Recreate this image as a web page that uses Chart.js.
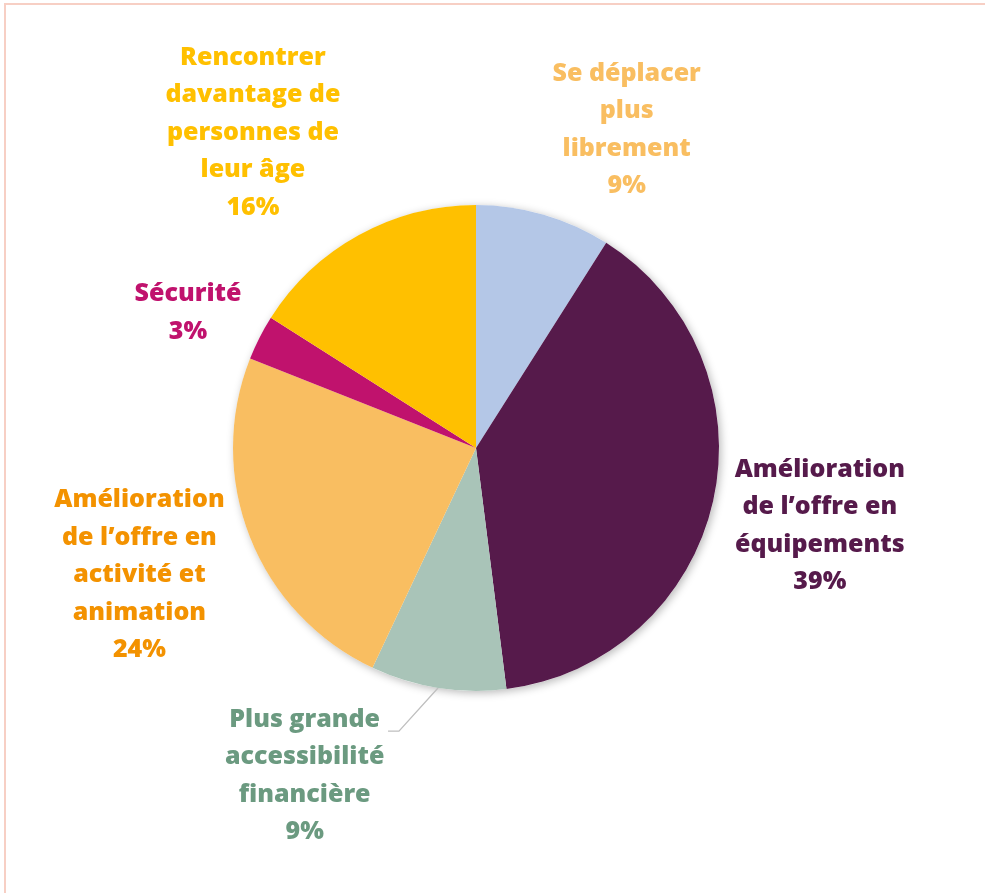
<!DOCTYPE html>
<html lang="fr">
<head>
<meta charset="utf-8">
<title>Attentes des seniors</title>
<script src="https://cdn.jsdelivr.net/npm/chart.js@4.4.1/dist/chart.umd.min.js"></script>
<style>
  html, body { margin: 0; padding: 0; background: #fff; }
  #wrap { position: relative; width: 985px; height: 893px; overflow: hidden; }
  #frame {
    position: absolute; left: 4px; top: 3px; width: 1100px; height: 1000px;
    border: 2px solid #f7cfc4; box-sizing: border-box;
  }
  canvas { position: absolute; left: 0; top: 0; }
</style>
</head>
<body>
<div id="wrap">
  <div id="frame"></div>
  <canvas id="piechart" width="985" height="893"></canvas>
</div>
<script>
const categories = [
  ["Se déplacer", "plus", "librement"],
  ["Amélioration", "de l’offre en", "équipements"],
  ["Plus grande", "accessibilité", "financière"],
  ["Amélioration", "de l’offre en", "activité et", "animation"],
  ["Sécurité"],
  ["Rencontrer", "davantage de", "personnes de", "leur âge"]
];
const values = [9, 39, 9, 24, 3, 16];
const sliceColors = ["#b4c7e7", "#561a4b", "#a9c4b8", "#f9be61", "#c0126d", "#ffc000"];
const labelColors = ["#f9be61", "#561a4b", "#6b9a80", "#f39200", "#c0126d", "#ffc000"];

// label block centres, in units of the pie radius, relative to the pie centre
const labelPos = [
  [0.62, -1.31],
  [1.415, 0.32],
  [-0.705, 1.35],
  [-1.385, 0.523],
  [-1.185, -0.556],
  [-0.918, -1.297]
];
const LINE_H = 37.5;

// draws the pie drop shadow, the labels and the leader line of the small green slice
const labelPlugin = {
  id: "sliceLabels",
  beforeDatasetsDraw(chart) {
    const arc = chart.getDatasetMeta(0).data[0];
    const ctx = chart.ctx;
    ctx.save();
    ctx.shadowColor = "rgba(0,0,0,0.28)";
    ctx.shadowBlur = 9;
    ctx.shadowOffsetX = 2;
    ctx.shadowOffsetY = 2;
    ctx.fillStyle = "#ffffff";
    ctx.beginPath();
    ctx.arc(arc.x, arc.y, arc.outerRadius, 0, Math.PI * 2);
    ctx.fill();
    ctx.restore();
  },
  afterDatasetsDraw(chart) {
    const meta = chart.getDatasetMeta(0);
    const ctx = chart.ctx;
    const cx = meta.data[0].x, cy = meta.data[0].y, r = meta.data[0].outerRadius;
    ctx.save();
    ctx.font = "800 25px 'Open Sans', sans-serif";
    ctx.textAlign = "center";
    ctx.textBaseline = "middle";
    meta.data.forEach((el, i) => {
      const lines = categories[i].concat([values[i] + "%"]);
      const x = cx + labelPos[i][0] * r;
      const y0 = cy + labelPos[i][1] * r - (lines.length - 1) * LINE_H / 2;
      ctx.fillStyle = labelColors[i];
      lines.forEach((t, k) => ctx.fillText(t, x, y0 + k * LINE_H));
    });

    // leader line for "Plus grande accessibilité financière"
    const g = meta.data[2];
    const mid = (g.startAngle + g.endAngle) / 2;
    ctx.strokeStyle = "#bfbfbf";
    ctx.lineWidth = 1.3;
    ctx.beginPath();
    ctx.moveTo(cx + Math.cos(mid) * r, cy + Math.sin(mid) * r);
    ctx.lineTo(cx - 0.317 * r, cy + 1.165 * r);
    ctx.lineTo(cx - 0.362 * r, cy + 1.165 * r);
    ctx.stroke();
    ctx.restore();
  }
};

new Chart(document.getElementById("piechart").getContext("2d"), {
  type: "pie",
  data: {
    labels: categories.map(l => l.join(" ")),
    datasets: [{
      data: values,
      backgroundColor: sliceColors,
      borderWidth: 0
    }]
  },
  options: {
    responsive: false,
    animation: false,
    layout: { padding: { left: 233, right: 266, top: 205, bottom: 202 } },
    plugins: {
      legend: { display: false },
      tooltip: { enabled: false }
    }
  },
  plugins: [labelPlugin]
});
</script>
</body>
</html>
